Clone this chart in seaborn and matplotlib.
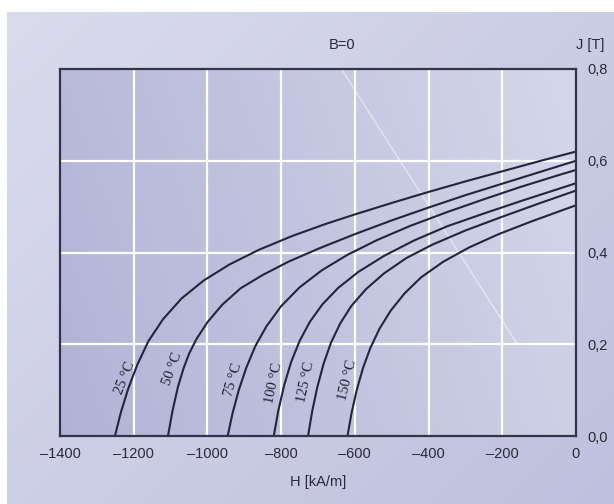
import numpy as np
import pandas as pd
import matplotlib
matplotlib.use("Agg")
import matplotlib.pyplot as plt
from matplotlib import font_manager
import seaborn as sns

# ---- data ----
temps = ["25 °C", "50 °C", "75 °C", "100 °C", "125 °C", "150 °C"]

H_25 = [-1251, -1235, -1215, -1190, -1160, -1120, -1070, -1010, -940, -860, -770, -680, -600, -500, -400, -300, -200, -100, 0]
J_25 = [0.0, 0.051, 0.103, 0.156, 0.207, 0.255, 0.300, 0.339, 0.374, 0.406, 0.436, 0.462, 0.483, 0.508, 0.532, 0.555, 0.577, 0.599, 0.620]

H_50 = [-1107, -1095, -1080, -1065, -1050, -1030, -1000, -960, -910, -850, -780, -700, -600, -500, -400, -300, -200, -100, 0]
J_50 = [0.0, 0.054, 0.107, 0.147, 0.179, 0.211, 0.248, 0.286, 0.322, 0.351, 0.380, 0.408, 0.440, 0.470, 0.498, 0.525, 0.550, 0.575, 0.600]

H_75 = [-945, -932, -915, -895, -870, -840, -800, -750, -690, -620, -540, -450, -350, -250, -150, -50, 0]
J_75 = [0.0, 0.049, 0.100, 0.148, 0.196, 0.239, 0.283, 0.324, 0.361, 0.395, 0.427, 0.458, 0.488, 0.516, 0.543, 0.568, 0.580]

H_100 = [-820, -808, -792, -773, -750, -722, -688, -645, -590, -520, -440, -350, -250, -150, -50, 0]
J_100 = [0.0, 0.054, 0.110, 0.161, 0.207, 0.249, 0.287, 0.323, 0.358, 0.393, 0.426, 0.457, 0.485, 0.512, 0.538, 0.551]

H_125 = [-727, -716, -702, -685, -665, -640, -610, -570, -520, -460, -390, -300, -200, -100, 0]
J_125 = [0.0, 0.053, 0.106, 0.157, 0.203, 0.245, 0.283, 0.320, 0.355, 0.388, 0.417, 0.448, 0.478, 0.507, 0.535]

H_150 = [-620, -609, -595, -578, -558, -533, -503, -465, -420, -360, -290, -210, -120, 0]
J_150 = [0.0, 0.050, 0.100, 0.148, 0.192, 0.234, 0.273, 0.311, 0.346, 0.380, 0.411, 0.440, 0.468, 0.503]

# label anchor positions (H, J) and rotation for each curve label
label_H = [-1222, -1094, -930, -820, -733, -620]
label_J = [0.126, 0.146, 0.122, 0.116, 0.118, 0.122]
label_rot = [68, 70, 74, 78, 78, 76]

x_ticks = [-1400, -1200, -1000, -800, -600, -400, -200, 0]
y_ticks = [0.0, 0.2, 0.4, 0.6, 0.8]
y_ticklabels = ["0,0", "0,2", "0,4", "0,6", "0,8"]

# B = 0 line: J = -mu0 * H  (H in kA/m, J in T); fades out in the reference near J = 0.2
mu0 = 4e-7 * np.pi * 1e3
Bline_J = [0.8, 0.2]
Bline_H = [-j / mu0 for j in Bline_J]

series = [(H_25, J_25), (H_50, J_50), (H_75, J_75),
          (H_100, J_100), (H_125, J_125), (H_150, J_150)]
rows = []
for t, (hh, jj) in zip(temps, series):
    for h, j in zip(hh, jj):
        rows.append({"H": h, "J": j, "T": t})
df = pd.DataFrame(rows)

# ---- figure ----
sns.set_theme(style="white")
names = {f.name for f in font_manager.fontManager.ttflist}
sans = "Liberation Sans Narrow" if "Liberation Sans Narrow" in names else "Liberation Sans"
plt.rcParams["font.family"] = [sans, "DejaVu Sans"]

W, Hh = 614, 504
fig = plt.figure(figsize=(W / 100, Hh / 100), dpi=100)
fig.patch.set_facecolor("white")

# outer gradient background
bg = fig.add_axes([7 / W, 0, 1 - 7 / W, 1 - 12 / Hh], zorder=-10)
gx, gy = np.meshgrid(np.linspace(0, 1, 200), np.linspace(0, 1, 200))
g = 0.55 * gx + 0.45 * gy
c0 = np.array([0.855, 0.860, 0.930])
c1 = np.array([0.745, 0.755, 0.868])
img = c0[None, None, :] * (1 - g[..., None]) + c1[None, None, :] * g[..., None]
bg.imshow(img, aspect="auto", extent=[0, 1, 0, 1], origin="upper")
bg.set_axis_off()

ax = fig.add_axes([60 / W, 1 - 436 / Hh, (576 - 60) / W, (436 - 69) / Hh])
ax.set_xlim(-1400, 0)
ax.set_ylim(0, 0.8)

# axes face gradient
a0 = np.array([0.690, 0.702, 0.835])
a1 = np.array([0.835, 0.843, 0.918])
ag = np.clip(0.8 * gx + 0.2 * (1 - gy), 0, 1)
aimg = a0[None, None, :] * (1 - ag[..., None]) + a1[None, None, :] * ag[..., None]
ax.imshow(aimg, aspect="auto", extent=[-1400, 0, 0, 0.8], origin="upper", zorder=0)

# grid
for xv in x_ticks[1:-1]:
    ax.axvline(xv, color="white", lw=1.6, zorder=1)
for yv in y_ticks[1:-1]:
    ax.axhline(yv, color="white", lw=1.6, zorder=1)

# B=0 line
ax.plot(Bline_H, Bline_J, color="white", lw=1.0, alpha=0.5, zorder=1)

# curves
sns.lineplot(data=df, x="H", y="J", hue="T", palette=["#24243a"] * 6,
             legend=False, ax=ax, lw=1.5, zorder=3, estimator=None)

for t, lh, lj, r in zip(temps, label_H, label_J, label_rot):
    ax.text(lh, lj, t, rotation=r, ha="center", va="center", fontsize=10.5,
            family=["Liberation Serif", "DejaVu Serif"], color="#1e1e2e", zorder=4)

for s in ax.spines.values():
    s.set_color("#33344a")
    s.set_linewidth(1.6)
    s.set_zorder(5)

ax.set_xticks(x_ticks)
ax.set_xticklabels([f"\u2013{abs(v)}" if v < 0 else "0" for v in x_ticks])
ax.set_yticks(y_ticks)
ax.set_yticklabels(y_ticklabels)
ax.yaxis.tick_right()
ax.tick_params(axis="both", length=0, labelsize=10.5, colors="#2a2a3a")
ax.tick_params(axis="x", pad=8)
ax.tick_params(axis="y", pad=8)
ax.set_xlabel("H [kA/m]", fontsize=10.5, color="#2a2a3a", labelpad=2)
ax.xaxis.set_label_coords(258 / 516, -0.105)
ax.set_ylabel("")

fig.text(590 / W, 1 - 45 / Hh, "J [T]", ha="center", va="center", fontsize=10.5, color="#2a2a3a")
fig.text(342 / W, 1 - 45 / Hh, "B=0", ha="center", va="center", fontsize=10.5, color="#2a2a3a")

fig.savefig("out.png", dpi=100)
